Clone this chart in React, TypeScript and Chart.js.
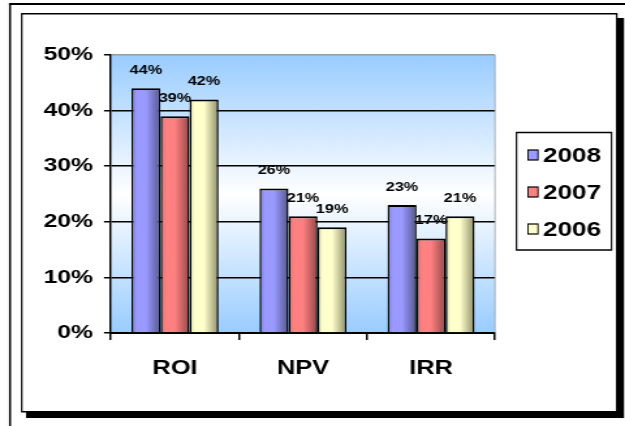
import React, { useEffect, useRef } from 'react';
import { Chart, registerables } from 'chart.js';

Chart.register(...registerables);

// ---- data ----
const categories = ['ROI', 'NPV', 'IRR'];
const seriesNames = ['2008', '2007', '2006'];
const values2008 = [44, 26, 23];
const values2007 = [39, 21, 17];
const values2006 = [42, 19, 21];
const seriesValues = [values2008, values2007, values2006];
const yMin = 0;
const yMax = 50;
const yStep = 10;

// ---- styling ----
const PAGE_W = 625;
const PAGE_H = 426;
const CANVAS_W = 480; // drawn narrower, then stretched to page width
const SX = PAGE_W / CANVAS_W;

const PLOT_L = 111;
const PLOT_R = 495;
const PLOT_T = 55;
const PLOT_B = 333;

const FONT = "'Liberation Sans', Arial, sans-serif";
const GROUP_PCT = 0.68;

const barBase = ['#9999FF', '#FF8080', '#FFFFCC'];
const barEdge = ['#7C7CD8', '#D86A6A', '#D8D8AC'];
const barDark = ['#56568F', '#914848', '#8F8F69'];

function barFill(ctx: any, i: number) {
  const chart = ctx.chart;
  if (!chart.chartArea || ctx.dataIndex === undefined) return barBase[i];
  const xs = chart.scales.x;
  const center = xs.getPixelForValue(ctx.dataIndex);
  const catW = xs.width / categories.length;
  const groupW = catW * GROUP_PCT;
  const bw = groupW / seriesNames.length;
  const left = center - groupW / 2 + bw * i;
  const g = chart.ctx.createLinearGradient(left, 0, left + bw, 0);
  g.addColorStop(0, barEdge[i]);
  g.addColorStop(0.18, barBase[i]);
  g.addColorStop(0.5, barBase[i]);
  g.addColorStop(1, barDark[i]);
  return g;
}

const framePlugin = {
  id: 'frame',
  beforeDraw(chart: any) {
    const c = chart.ctx;
    const a = chart.chartArea;
    c.save();
    c.scale(1 / SX, 1);
    c.fillStyle = '#ffffff';
    c.fillRect(0, 0, PAGE_W, PAGE_H);
    // outer border (top and left)
    c.fillStyle = '#000000';
    c.fillRect(9, 3, PAGE_W - 9, 2);
    c.fillRect(9, 3, 2, PAGE_H - 3);
    // chart box shadow
    c.fillRect(26, 18, 598, 400);
    // chart box
    c.fillStyle = '#ffffff';
    c.fillRect(21, 13, 596, 399);
    c.strokeStyle = '#000000';
    c.lineWidth = 1.5;
    c.strokeRect(21.75, 13.75, 595, 398);
    c.restore();

    // plot area background
    c.save();
    const g = c.createLinearGradient(0, a.top, 0, a.bottom);
    g.addColorStop(0, '#99CCFF');
    g.addColorStop(0.5, '#FFFFFF');
    g.addColorStop(1, '#99CCFF');
    c.fillStyle = g;
    c.fillRect(a.left, a.top, a.right - a.left, a.bottom - a.top);
    c.restore();
  },
  beforeDatasetsDraw(chart: any) {
    const c = chart.ctx;
    const a = chart.chartArea;
    c.save();
    c.strokeStyle = '#9a9a9a';
    c.lineWidth = 1 / SX;
    c.beginPath();
    c.moveTo(a.right, a.top);
    c.lineTo(a.right, a.bottom);
    c.stroke();
    c.restore();
  },
  afterDatasetsDraw(chart: any) {
    const c = chart.ctx;
    c.save();
    c.fillStyle = '#000000';
    c.font = `bold 12.5px ${FONT}`;
    c.textAlign = 'center';
    c.textBaseline = 'middle';
    chart.data.datasets.forEach((ds: any, di: number) => {
      const meta = chart.getDatasetMeta(di);
      meta.data.forEach((el: any, i: number) => {
        const { x, y } = el.getProps(['x', 'y'], true);
        c.fillText(`${ds.data[i]}%`, x, y - 18);
      });
    });
    c.restore();
  },
  afterDraw(chart: any) {
    const c = chart.ctx;
    // legend box
    const top = 132.5;
    const bottom = 250;
    c.save();
    c.scale(1 / SX, 1);
    c.fillStyle = '#ffffff';
    c.fillRect(516.5, top, 95, bottom - top);
    c.strokeStyle = '#000000';
    c.lineWidth = 1.5;
    c.strokeRect(516.5, top, 95, bottom - top);
    const rows = [155, 192, 229];
    rows.forEach((cy, i) => {
      c.fillStyle = barBase[i];
      c.fillRect(528, cy - 5, 10, 10);
      c.lineWidth = 1.2;
      c.strokeRect(528, cy - 5, 10, 10);
    });
    c.restore();
    c.save();
    c.fillStyle = '#000000';
    c.font = `bold 20px ${FONT}`;
    c.textAlign = 'left';
    c.textBaseline = 'middle';
    rows.forEach((cy, i) => {
      c.fillText(seriesNames[i], 543 / SX, cy + 1);
    });
    c.restore();
  },
};

export default function App() {
  const canvasRef = useRef<HTMLCanvasElement | null>(null);

  useEffect(() => {
    const canvas = canvasRef.current;
    if (!canvas) return;
    const chart = new Chart(canvas, {
      type: 'bar',
      data: {
        labels: categories,
        datasets: seriesNames.map((name, i) => ({
          label: name,
          data: seriesValues[i],
          backgroundColor: (ctx: any) => barFill(ctx, i),
          borderColor: '#000000',
          borderWidth: { top: 2, left: 1.5, right: 1.5, bottom: 0 },
          categoryPercentage: GROUP_PCT,
          barPercentage: 1,
        })),
      },
      options: {
        animation: false,
        responsive: false,
        devicePixelRatio: 1,
        layout: {
          padding: { top: PLOT_T, left: 0, right: CANVAS_W - PLOT_R / SX, bottom: 0 },
        },
        plugins: {
          legend: { display: false },
          tooltip: { enabled: false },
          title: { display: false },
        },
        scales: {
          x: {
            type: 'category',
            offset: true,
            grid: {
              offset: true,
              drawOnChartArea: false,
              drawTicks: true,
              tickLength: 7,
              color: '#000000',
              lineWidth: 1.5,
            },
            border: { color: '#000000', width: 2 },
            ticks: {
              color: '#000000',
              font: { family: FONT, size: 19.5, weight: 'bold' },
              padding: 16.5,
            },
            afterFit: (s: any) => {
              s.height = PAGE_H - PLOT_B;
            },
          },
          y: {
            min: yMin,
            max: yMax,
            ticks: {
              stepSize: yStep,
              color: '#000000',
              font: { family: FONT, size: 19, weight: 'bold' },
              padding: 8.4,
              callback: (v: any) => `${v}%`,
            },
            grid: {
              color: (ctx: any) => (ctx.tick && ctx.tick.value === yMax ? '#9a9a9a' : '#000000'),
              tickColor: '#000000',
              lineWidth: 1.5,
              tickLength: 7 / SX,
            },
            border: { color: '#000000', width: 1.5 },
            afterFit: (s: any) => {
              s.width = PLOT_L / SX;
            },
          },
        },
      },
      plugins: [framePlugin],
    } as any);
    return () => chart.destroy();
  }, []);

  return (
    <div
      style={{
        position: 'fixed',
        left: 0,
        top: 0,
        width: PAGE_W,
        height: PAGE_H,
        background: '#ffffff',
      }}
    >
      <canvas
        ref={canvasRef}
        width={CANVAS_W}
        height={PAGE_H}
        style={{ display: 'block', width: `${PAGE_W}px`, height: `${PAGE_H}px` }}
      />
    </div>
  );
}
